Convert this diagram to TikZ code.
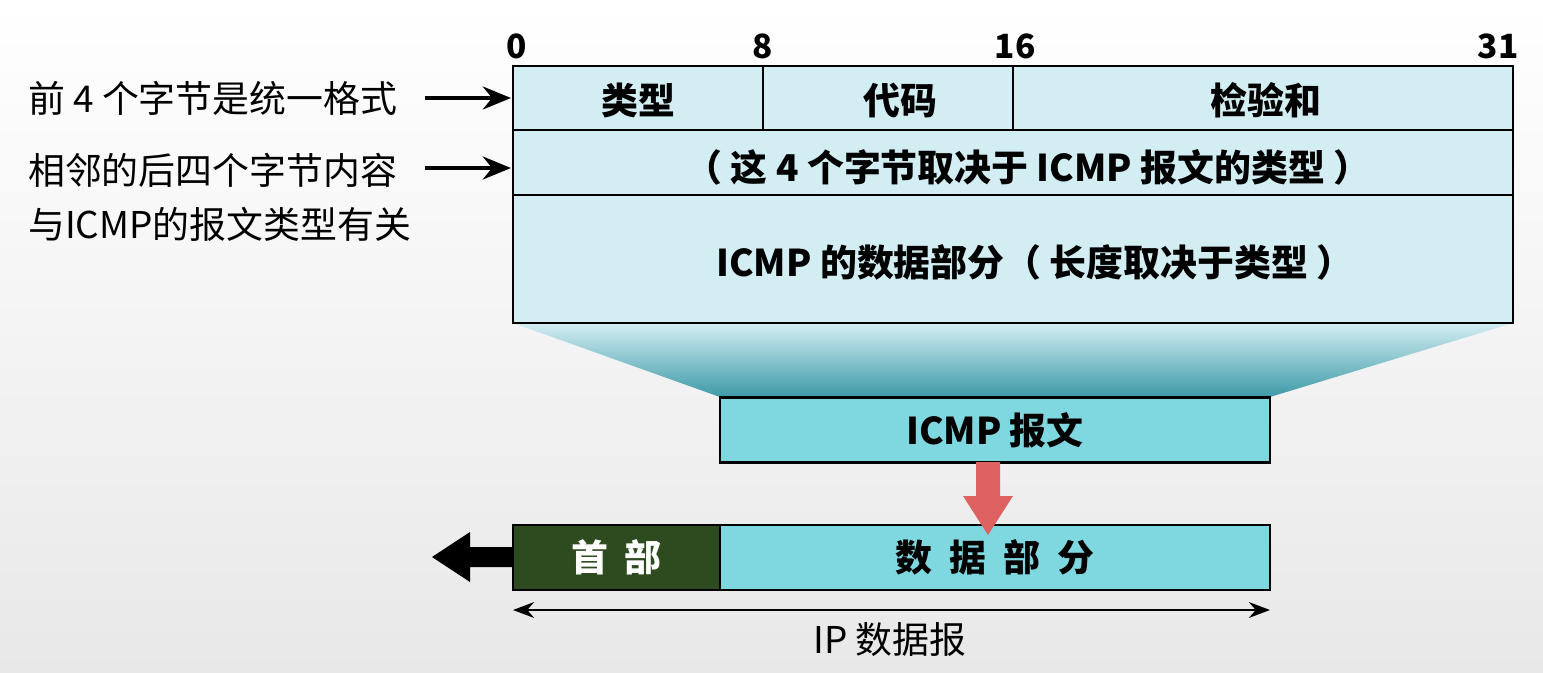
\documentclass[tikz,border=0pt]{standalone}
\usepackage{fontspec}
\setmainfont{Noto Sans CJK SC}
\usetikzlibrary{arrows.meta}
\definecolor{lcyan}{HTML}{D3EEF3}
\definecolor{mcyan}{HTML}{7FD7E0}
\definecolor{dteal}{HTML}{3E9AA8}
\definecolor{hgreen}{HTML}{2E4A1F}
\definecolor{rarrow}{HTML}{DE6262}
\tikzset{
  cell/.style={draw=black,line width=1.6pt,fill=lcyan},
  mbox/.style={draw=black,line width=1.2pt,fill=mcyan},
  btxt/.style={font=\fontsize{21}{24}\selectfont\bfseries},
  ltxt/.style={font=\fontsize{21}{24}\selectfont,anchor=west},
  num/.style={font=\fontsize{19}{22}\selectfont\bfseries},
}
\begin{document}
\begin{tikzpicture}[x=0.02cm,y=-0.02cm]
\shade[top color=white,bottom color=black!9] (0,0) rectangle (1543,673);
\useasboundingbox (0,0) rectangle (1543,673);
% funnel
\shade[top color=lcyan,bottom color=dteal] (513,323) -- (1513,323) -- (1270,397) -- (720,397) -- cycle;
% table
\draw[cell] (513,66) rectangle (1513,323);
\draw[line width=1.6pt] (513,130) -- (1513,130) (513,195) -- (1513,195) (763,66) -- (763,130) (1013,66) -- (1013,130);
\node[btxt] (t1) at (638,100) {类型};
\node[btxt] (t2) at (900,100) {代码};
\node[btxt] (t3) at (1266,100) {检验和};
\node[btxt] (t4) at (1028,167) {（ 这 4 个字节取决于 ICMP 报文的类型 ）};
\node[btxt] (t5) at (1035,262) {ICMP 的数据部分（ 长度取决于类型 ）};
\node[num] (n0) at (517,46) {0};
\node[num] (n8) at (763,46) {8};
\node[num] (n16) at (1015,46) {16};
\node[num] (n31) at (1498,46) {31};
% left texts
\node[ltxt] (l1) at (22,98) {前 4 个字节是统一格式};
\node[ltxt] (l2) at (22,170) {相邻的后四个字节内容};
\node[ltxt] (l3) at (22,224) {与ICMP的报文类型有关};
\coordinate (a1) at (425,98); \coordinate (b1) at (511,98);
\coordinate (a2) at (425,168); \coordinate (b2) at (511,168);
\draw[line width=2.5pt,-{Stealth[length=16pt,width=13pt]}] (a1) -- (b1);
\draw[line width=2.5pt,-{Stealth[length=16pt,width=13pt]}] (a2) -- (b2);
% ICMP box
\node[mbox,minimum width=550*0.02cm,minimum height=65*0.02cm,btxt,inner sep=0] (icmp) at (995,430) {ICMP 报文};
% bottom
\node[draw=black,line width=1.2pt,fill=hgreen,minimum width=207*0.02cm,minimum height=65*0.02cm,inner sep=0,btxt,text=white] (hdr) at (616.5,557.5) {首\ \ 部};
\node[mbox,minimum width=550*0.02cm,minimum height=65*0.02cm,inner sep=0,btxt] (data) at (995,557.5) {数\ \ 据\ \ 部\ \ 分};
% red arrow
\fill[rarrow] (976,462) -- (1000,462) -- (1000,496) -- (1013,496) -- (988,535) -- (963,496) -- (976,496) -- cycle;
\fill[black] (513,547) -- (470,547) -- (470,532) -- (432,557) -- (470,582) -- (470,567) -- (513,567) -- cycle;
\coordinate (d1) at (513,610); \coordinate (d2) at (1270,610);
\draw[line width=1pt,{Stealth[length=12pt]}-{Stealth[length=12pt]}] (d1) -- (d2);
\node[font=\fontsize{21}{24}\selectfont] (ip) at (890,640) {IP 数据报};
\end{tikzpicture}
\end{document}
